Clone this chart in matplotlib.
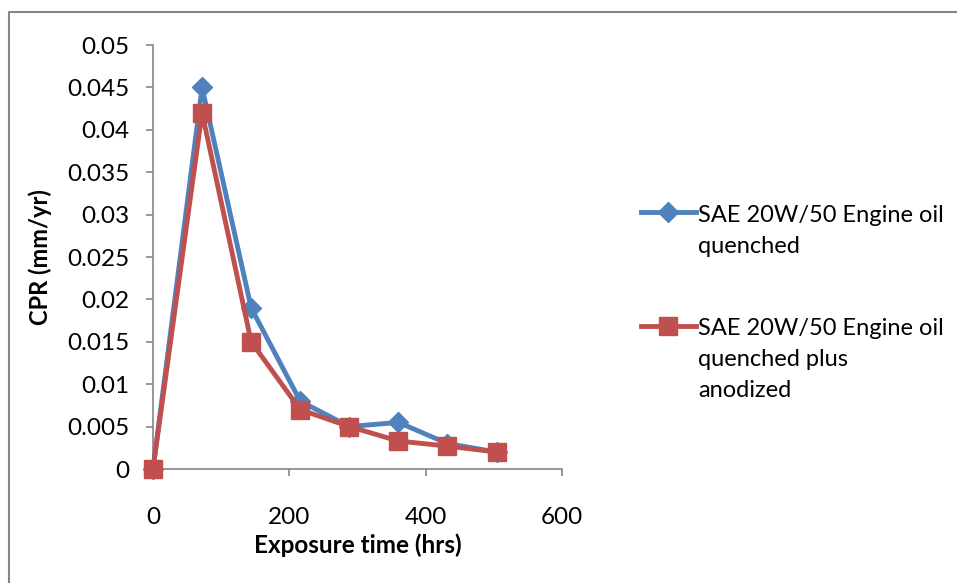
import matplotlib
matplotlib.use("Agg")
import matplotlib.pyplot as plt
from matplotlib.lines import Line2D

plt.rcParams['font.family'] = ['Lato', 'DejaVu Sans']

# exposure time (hrs) and corrosion penetration rate (mm/yr)
hours = [0, 72, 144, 216, 288, 360, 432, 504]
cpr_quenched = [0, 0.045, 0.019, 0.008, 0.005, 0.0055, 0.003, 0.002]
cpr_anodized = [0, 0.042, 0.015, 0.007, 0.005, 0.0033, 0.0027, 0.002]

label_quenched = ["SAE 20W/50 Engine oil", "quenched"]
label_anodized = ["SAE 20W/50 Engine oil", "quenched plus", "anodized"]

x_ticks = [0, 200, 400, 600]
y_ticks = [0, 0.005, 0.01, 0.015, 0.02, 0.025, 0.03, 0.035, 0.04, 0.045, 0.05]
y_tick_labels = ["0", "0.005", "0.01", "0.015", "0.02", "0.025", "0.03",
                 "0.035", "0.04", "0.045", "0.05"]

blue = "#4F81BD"
red = "#C0504D"
grey = "#868686"

W, H = 957, 583
fig = plt.figure(figsize=(W / 100, H / 100), dpi=100)
ax = fig.add_axes([153 / W, 1 - 469 / H, 409 / W, 424 / H])


def px(x, y):
    # pixel position (from top-left) to figure fraction
    return x / W, 1 - y / H


ax.plot(hours, cpr_quenched, color=blue, lw=3.5, marker="D", ms=10.5,
        mec=blue, clip_on=False, zorder=3)
ax.plot(hours, cpr_anodized, color=red, lw=3.5, marker="s", ms=13.5,
        mec=red, clip_on=False, zorder=4)

ax.set_xlim(0, 600)
ax.set_ylim(0, 0.05)
ax.set_xticks(x_ticks)
ax.set_yticks(y_ticks)
ax.set_yticklabels(y_tick_labels)

for side in ("top", "right"):
    ax.spines[side].set_visible(False)
for side in ("left", "bottom"):
    ax.spines[side].set_color(grey)
    ax.spines[side].set_linewidth(1.2)
ax.tick_params(axis="both", direction="out", length=5, width=1.2,
               color=grey, labelsize=17.5)
ax.tick_params(axis="y", pad=12)
ax.tick_params(axis="x", pad=22)

ax.set_xlabel("Exposure time (hrs)", fontsize=17.5, fontweight="bold",
              labelpad=4)
ax.set_ylabel("CPR (mm/yr)", fontsize=17, fontweight="bold", labelpad=11)

# hand-placed legend entries, handle level with the first text line
entries = [(label_quenched, blue, "D", 10.5, 212, [222, 253]),
           (label_anodized, red, "s", 13.5, 326, [335, 366, 397])]
for lines, color, marker, ms, ypix, baselines in entries:
    x0, y0 = px(641, ypix)
    x1, _ = px(696, ypix)
    xm, _ = px(668, ypix)
    fig.add_artist(Line2D([x0, x1], [y0, y0], color=color, lw=3.5,
                          transform=fig.transFigure))
    fig.add_artist(Line2D([xm], [y0], color=color, marker=marker, ms=ms,
                          mec=color, transform=fig.transFigure))
    for line, base in zip(lines, baselines):
        tx, ty = px(698, base)
        fig.text(tx, ty, line, fontsize=17, va="baseline", ha="left")

# chart frame (only left and top edges lie inside the picture)
fig.add_artist(Line2D([9 / W, 9 / W, 1.0], [0.0, 1 - 12 / H, 1 - 12 / H],
                      color=grey, lw=1.5, transform=fig.transFigure))

fig.savefig("out.png", dpi=100)
